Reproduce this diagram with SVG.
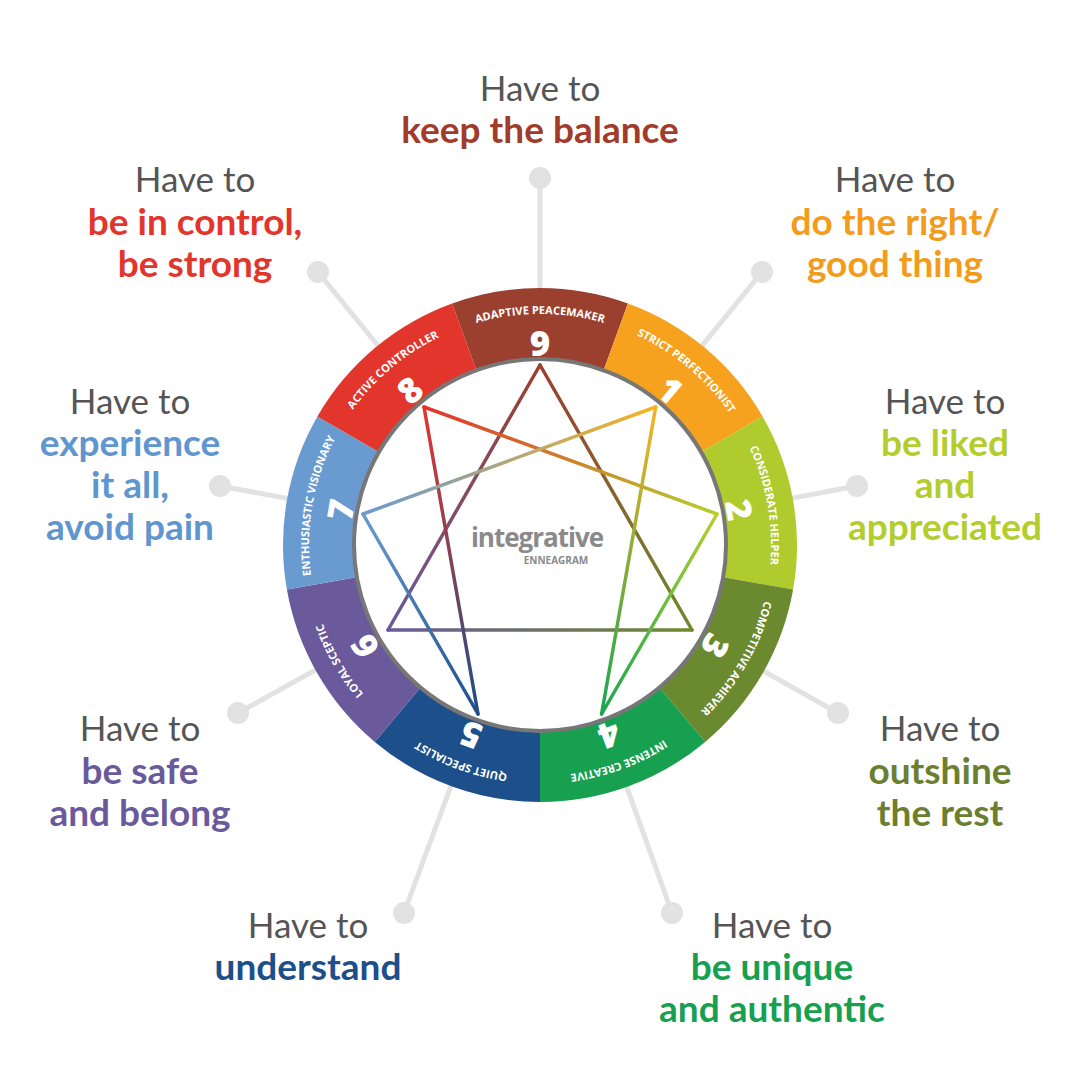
<svg xmlns="http://www.w3.org/2000/svg" width="1080" height="1080" viewBox="0 0 1080 1080">
<style>
.h{font-family:Lato,"Open Sans",sans-serif;font-size:35px;fill:#555;text-anchor:middle}
.b{font-family:Lato,"Open Sans",sans-serif;font-size:37px;font-weight:bold;text-anchor:middle}
.seg{font-family:"Open Sans","Liberation Sans",sans-serif;font-size:11px;font-weight:bold;fill:#fff;text-anchor:middle}
.num{font-family:"Open Sans","Liberation Sans",sans-serif;font-size:35px;font-weight:800;fill:#fff;text-anchor:middle;dominant-baseline:central}
.sp{stroke:#e2e2e2;stroke-width:5}
.dot{fill:#e2e2e2}
.ln{fill:none;stroke-width:3.5;stroke-linecap:round}
</style>
<defs>
<path id="a9" d="M461,327.9 A231,231 0 0 1 619,327.9"/>
<path id="a1" d="M619,327.9 A231,231 0 0 1 740,429.5"/>
<path id="a2" d="M740,429.5 A231,231 0 0 1 767.5,585.1"/>
<path id="a3" d="M767.5,585.1 A231,231 0 0 1 688.5,721.9"/>
<path id="a4" d="M688.5,721.9 A231,231 0 0 1 540,776"/>
<path id="a5" d="M540,776 A231,231 0 0 1 391.5,721.9"/>
<path id="a6" d="M391.5,721.9 A231,231 0 0 1 312.5,585.1"/>
<path id="a7" d="M312.5,585.1 A231,231 0 0 1 340,429.5"/>
<path id="a8" d="M340,429.5 A231,231 0 0 1 461,327.9"/>
<linearGradient id="g93" gradientUnits="userSpaceOnUse" x1="540" y1="365" x2="692" y2="630"><stop offset="0" stop-color="#9b3f2e"/><stop offset="1" stop-color="#6e8a2e"/></linearGradient>
<linearGradient id="g36" gradientUnits="userSpaceOnUse" x1="692" y1="630" x2="388" y2="630"><stop offset="0" stop-color="#6e8a2e"/><stop offset="1" stop-color="#6a5a9b"/></linearGradient>
<linearGradient id="g69" gradientUnits="userSpaceOnUse" x1="388" y1="630" x2="540" y2="365"><stop offset="0" stop-color="#6a5a9b"/><stop offset="1" stop-color="#9b3f2e"/></linearGradient>
<linearGradient id="g14" gradientUnits="userSpaceOnUse" x1="655.7" y1="407" x2="601.6" y2="714"><stop offset="0" stop-color="#f7b322"/><stop offset="1" stop-color="#1aa651"/></linearGradient>
<linearGradient id="g42" gradientUnits="userSpaceOnUse" x1="601.6" y1="714" x2="717" y2="514"><stop offset="0" stop-color="#1aa651"/><stop offset="1" stop-color="#b5cf2c"/></linearGradient>
<linearGradient id="g28" gradientUnits="userSpaceOnUse" x1="717" y1="514" x2="424" y2="407"><stop offset="0" stop-color="#b5cf2c"/><stop offset="1" stop-color="#e2352c"/></linearGradient>
<linearGradient id="g85" gradientUnits="userSpaceOnUse" x1="424" y1="407" x2="478" y2="714"><stop offset="0" stop-color="#e2352c"/><stop offset="1" stop-color="#1d4f8a"/></linearGradient>
<linearGradient id="g57" gradientUnits="userSpaceOnUse" x1="478" y1="714" x2="363" y2="514"><stop offset="0" stop-color="#1d4f8a"/><stop offset="1" stop-color="#6a9bd0"/></linearGradient>
<linearGradient id="g71" gradientUnits="userSpaceOnUse" x1="363" y1="514" x2="655.7" y2="407"><stop offset="0" stop-color="#6a9bd0"/><stop offset="1" stop-color="#f7b322"/></linearGradient>
</defs>
<rect width="1080" height="1080" fill="#fff"/>
<g id="spokes">
<line class="sp" x1="540" y1="178" x2="540" y2="545"/><circle class="dot" cx="540" cy="178" r="11"/>
<line class="sp" x1="762" y1="272" x2="540" y2="545"/><circle class="dot" cx="762" cy="272" r="11"/>
<line class="sp" x1="857" y1="486" x2="540" y2="545"/><circle class="dot" cx="857" cy="486" r="11"/>
<line class="sp" x1="838" y1="713" x2="540" y2="545"/><circle class="dot" cx="838" cy="713" r="11"/>
<line class="sp" x1="672" y1="913" x2="540" y2="545"/><circle class="dot" cx="672" cy="913" r="11"/>
<line class="sp" x1="404" y1="913" x2="540" y2="545"/><circle class="dot" cx="404" cy="913" r="11"/>
<line class="sp" x1="238" y1="713" x2="540" y2="545"/><circle class="dot" cx="238" cy="713" r="11"/>
<line class="sp" x1="220" y1="486" x2="540" y2="545"/><circle class="dot" cx="220" cy="486" r="11"/>
<line class="sp" x1="318" y1="272" x2="540" y2="545"/><circle class="dot" cx="318" cy="272" r="11"/>
</g>
<g id="ring">
<path id="s9" fill="#9b3f2e" d="M452.1,303.5 A257,257 0 0 1 627.9,303.5 L603.3,371.2 A185,185 0 0 0 476.7,371.2 Z"/>
<path id="s1" fill="#f6a21e" d="M627.9,303.5 A257,257 0 0 1 762.6,416.5 L700.2,452.5 A185,185 0 0 0 603.3,371.2 Z"/>
<path id="s2" fill="#afcb2e" d="M762.6,416.5 A257,257 0 0 1 793.1,589.6 L722.2,577.1 A185,185 0 0 0 700.2,452.5 Z"/>
<path id="s3" fill="#6b8a2f" d="M793.1,589.6 A257,257 0 0 1 705.2,741.9 L658.9,686.7 A185,185 0 0 0 722.2,577.1 Z"/>
<path id="s4" fill="#17a04f" d="M705.2,741.9 A257,257 0 0 1 540,802 L540,730 A185,185 0 0 0 658.9,686.7 Z"/>
<path id="s5" fill="#1d4f8a" d="M540,802 A257,257 0 0 1 374.8,741.9 L421.1,686.7 A185,185 0 0 0 540,730 Z"/>
<path id="s6" fill="#6a5a9b" d="M374.8,741.9 A257,257 0 0 1 286.9,589.6 L357.8,577.1 A185,185 0 0 0 421.1,686.7 Z"/>
<path id="s7" fill="#6a9bd0" d="M286.9,589.6 A257,257 0 0 1 317.4,416.5 L379.8,452.5 A185,185 0 0 0 357.8,577.1 Z"/>
<path id="s8" fill="#e2352c" d="M317.4,416.5 A257,257 0 0 1 452.1,303.5 L476.7,371.2 A185,185 0 0 0 379.8,452.5 Z"/>
<circle cx="540" cy="545" r="186" fill="#fff" stroke="#777" stroke-width="4"/>
</g>
<g id="segtext">
<text class="seg"><textPath href="#a9" startOffset="50%">ADAPTIVE PEACEMAKER</textPath></text>
<text class="seg"><textPath href="#a1" startOffset="50%">STRICT PERFECTIONIST</textPath></text>
<text class="seg"><textPath href="#a2" startOffset="50%">CONSIDERATE HELPER</textPath></text>
<text class="seg"><textPath href="#a3" startOffset="50%">COMPETITIVE ACHIEVER</textPath></text>
<text class="seg"><textPath href="#a4" startOffset="50%">INTENSE CREATIVE</textPath></text>
<text class="seg"><textPath href="#a5" startOffset="50%">QUIET SPECIALIST</textPath></text>
<text class="seg"><textPath href="#a6" startOffset="50%">LOYAL SCEPTIC</textPath></text>
<text class="seg"><textPath href="#a7" startOffset="50%">ENTHUSIASTIC VISIONARY</textPath></text>
<text class="seg"><textPath href="#a8" startOffset="50%">ACTIVE CONTROLLER</textPath></text>
<text class="num" transform="translate(540,342)">9</text>
<text class="num" transform="translate(670.5,389.5) rotate(40)">1</text>
<text class="num" transform="translate(739.9,509.7) rotate(80)">2</text>
<text class="num" transform="translate(715.8,646.5) rotate(120)">3</text>
<text class="num" transform="translate(609.4,735.8) rotate(160)">4</text>
<text class="num" transform="translate(470.6,735.8) rotate(200)">5</text>
<text class="num" transform="translate(364.2,646.5) rotate(240)">6</text>
<text class="num" transform="translate(340.1,509.7) rotate(280)">7</text>
<text class="num" transform="translate(409.5,389.5) rotate(320)">8</text>
</g>
<g id="connectors">
<line class="ln" stroke="url(#g93)" x1="540" y1="365" x2="692" y2="630"/>
<line class="ln" stroke="url(#g36)" x1="692" y1="630" x2="388" y2="630"/>
<line class="ln" stroke="url(#g69)" x1="388" y1="630" x2="540" y2="365"/>
<line class="ln" stroke="url(#g14)" x1="655.7" y1="407" x2="601.6" y2="714"/>
<line class="ln" stroke="url(#g42)" x1="601.6" y1="714" x2="717" y2="514"/>
<line class="ln" stroke="url(#g28)" x1="717" y1="514" x2="424" y2="407"/>
<line class="ln" stroke="url(#g85)" x1="424" y1="407" x2="478" y2="714"/>
<line class="ln" stroke="url(#g57)" x1="478" y1="714" x2="363" y2="514"/>
<line class="ln" stroke="url(#g71)" x1="363" y1="514" x2="655.7" y2="407"/>
</g>
<g id="logo">
<rect x="462" y="520" width="150" height="50" fill="#fff" opacity="0.85"/>
<text x="537" y="547" font-family="'Open Sans',sans-serif" font-size="26" font-weight="bold" fill="#8a8a8a" text-anchor="middle" letter-spacing="-1">integrative</text>
<text x="556" y="564" font-family="'Open Sans',sans-serif" font-size="10" font-weight="bold" fill="#8a8a8a" text-anchor="middle">ENNEAGRAM</text>
</g>
<g id="labels">
<text class="h" x="540" y="101">Have to</text>
<text class="b" x="540" y="143" fill="#a23b2a">keep the balance</text>
<text class="h" x="195" y="192">Have to</text>
<text class="b" x="195" y="235" fill="#e2352c">be in control,</text>
<text class="b" x="195" y="277" fill="#e2352c">be strong</text>
<text class="h" x="895" y="192">Have to</text>
<text class="b" x="895" y="235" fill="#f39c1c">do the right/</text>
<text class="b" x="895" y="277" fill="#f39c1c">good thing</text>
<text class="h" x="130" y="414">Have to</text>
<text class="b" x="130" y="456" fill="#5f96cf">experience</text>
<text class="b" x="130" y="498" fill="#5f96cf">it all,</text>
<text class="b" x="130" y="540" fill="#5f96cf">avoid pain</text>
<text class="h" x="945" y="414">Have to</text>
<text class="b" x="945" y="456" fill="#b3cd2c">be liked</text>
<text class="b" x="945" y="498" fill="#b3cd2c">and</text>
<text class="b" x="945" y="540" fill="#b3cd2c">appreciated</text>
<text class="h" x="140" y="741">Have to</text>
<text class="b" x="140" y="784" fill="#6a5a9b">be safe</text>
<text class="b" x="140" y="826" fill="#6a5a9b">and belong</text>
<text class="h" x="940" y="741">Have to</text>
<text class="b" x="940" y="784" fill="#6b7f2f">outshine</text>
<text class="b" x="940" y="826" fill="#6b7f2f">the rest</text>
<text class="h" x="308" y="938">Have to</text>
<text class="b" x="308" y="980" fill="#1d4f8a">understand</text>
<text class="h" x="772" y="938">Have to</text>
<text class="b" x="772" y="980" fill="#17a04f">be unique</text>
<text class="b" x="772" y="1022" fill="#17a04f">and authentic</text>
</g>
</svg>
